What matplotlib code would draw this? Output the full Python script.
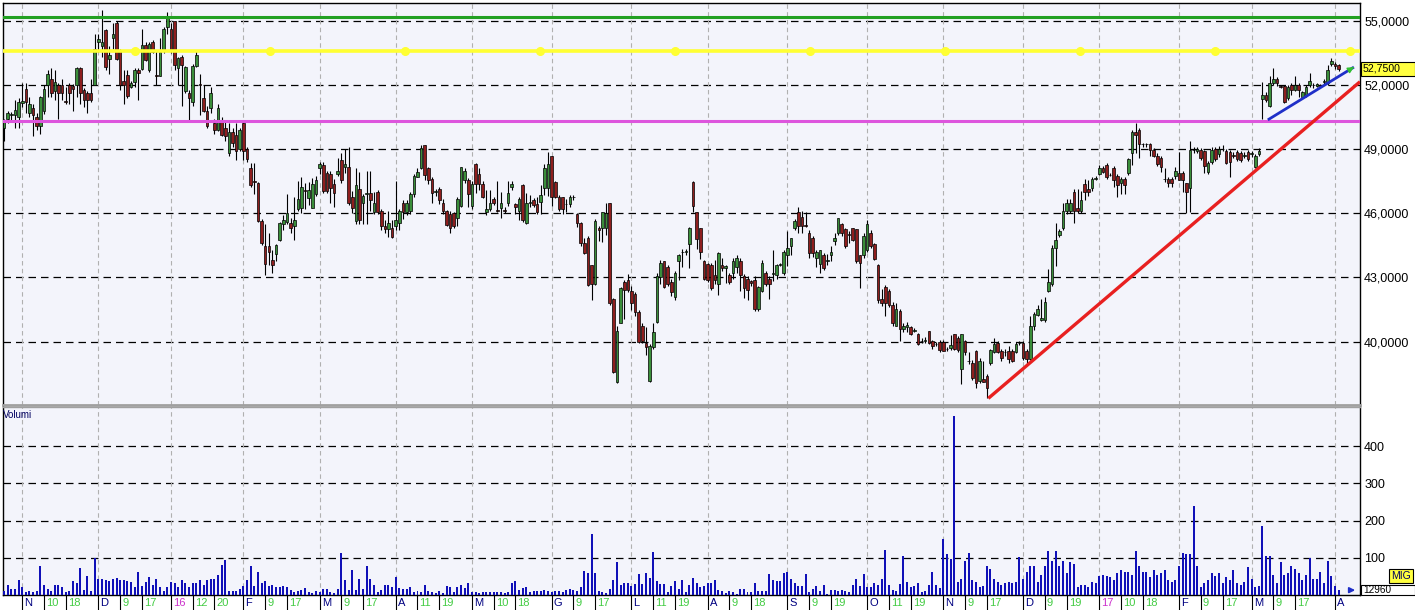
import numpy as np
import pandas as pd
import matplotlib
matplotlib.use("Agg")
import matplotlib.pyplot as plt
from matplotlib.patches import Rectangle
from matplotlib.transforms import blended_transform_factory, ScaledTranslation

plt.rcParams['font.family'] = ['Liberation Sans', 'DejaVu Sans']

# trading days (Borsa Italiana), Oct 2015 - Apr 2017
holidays = ["2015-12-24", "2015-12-25", "2015-12-31", "2016-01-01",
            "2016-03-25", "2016-03-28", "2016-08-15", "2016-12-26"]
dates = pd.bdate_range("2015-10-26", "2017-04-04")
dates = dates[~dates.isin(pd.to_datetime(holidays))]

opens = [
    50.0, 50.4, 50.6, 50.6, 50.5, 51.15, 51.8, 50.7, 50.9, 50.5,
    50.1, 50.8, 52.0, 52.3, 51.7, 52.0, 52.0, 51.25, 52.0, 51.95,
    52.0, 52.8, 51.75, 51.6, 51.6, 52.0, 54.0, 53.8, 54.55, 53.2,
    54.2, 54.9, 53.6, 52.2, 52.45, 51.9, 52.15, 52.7, 52.75, 53.85,
    52.7, 54.0, 52.45, 52.4, 53.6, 54.7, 54.6, 55.0, 52.8, 53.3,
    51.7, 51.6, 51.2, 52.9, 52.05, 51.4, 50.8, 50.9, 50.2, 49.9,
    50.3, 50.0, 48.8, 49.8, 49.65, 49.0, 50.2,
    49.0, 48.1, 47.5, 47.4, 45.65, 44.45, 44.45, 43.8, 44.1, 44.75,
    45.5, 45.6, 45.55, 45.4, 46.2, 46.25, 47.1, 46.7, 46.25, 46.9,
    48.1, 48.25, 47.9, 47.85, 47.35, 47.85, 48.5, 48.15, 48.15, 46.75,
    45.65, 47.15, 46.5, 46.9, 46.95, 46.05, 47.0, 46.1, 45.4, 45.25,
    45.3, 45.4, 45.55, 46.5, 46.05, 46.1, 46.9, 47.7, 48.1, 49.2,
    48.1, 47.6, 47.0, 47.15, 46.5, 46.1, 45.95, 46.0, 45.8, 46.35,
    47.55, 47.55, 46.35, 48.3, 47.85, 47.35, 46.05, 46.2, 46.65, 46.15,
    46.25, 46.15, 46.5, 47.25, 46.45, 46.1, 47.3, 45.55,
    46.5, 46.6, 46.45, 46.55, 47.2, 47.2, 48.7, 47.45, 46.75, 46.75,
    46.45, 46.45, 46.75, 45.95, 45.55, 44.6, 44.85, 43.6, 42.7, 45.3,
    45.3, 45.3, 46.5, 42.0, 38.1, 40.85, 42.8, 42.9, 42.35, 42.25,
    41.4, 40.75, 39.95, 38.15, 39.75, 40.9, 43.0, 43.75, 43.5, 42.8,
    42.1, 43.75, 44.2, 44.2, 44.55, 47.45, 46.05, 45.3, 43.75, 43.65,
    43.6, 43.1, 42.7, 43.6, 43.45, 43.1, 43.2, 43.5, 43.75, 43.05,
    42.95, 42.85, 42.9, 41.55, 42.35, 43.2, 42.95, 43.15, 43.1, 43.6,
    43.2, 44.05, 44.45, 45.3, 46.05, 45.85, 45.45, 45.1, 44.85, 43.9,
    43.65, 44.05, 43.75, 44.05, 44.7, 45.1, 45.5, 45.25, 45.05, 45.3,
    45.25, 44.05, 44.05, 44.3, 45.1, 44.55, 43.6, 42.0, 42.55, 42.35,
    41.7, 40.75, 41.45, 40.6, 40.7, 40.7, 40.5, 40.35, 40.05, 40.05,
    40.5, 40.05, 39.9, 40.0, 40.0, 39.65, 39.7, 40.35, 40.15, 38.7,
    40.05, 39.1, 39.0, 39.55, 38.15, 38.25, 38.4, 39.0, 39.5, 39.95,
    39.55, 39.5, 39.55, 39.55, 39.5, 39.95, 39.95, 39.55, 39.2, 40.75,
    41.25, 41.0, 41.0, 42.35, 42.7, 44.4,
    45.0, 45.3, 46.1, 46.1, 47.0, 46.25, 46.1, 47.35, 47.15, 47.2,
    47.6, 47.85, 48.1, 48.25, 47.8, 48.1, 47.75, 47.4, 47.6, 47.9,
    48.8, 49.8, 49.9, 49.25, 49.25, 49.25, 48.95, 48.7, 48.6, 47.6,
    47.6, 47.6, 47.75, 47.9, 47.9, 47.4, 47.2, 48.95, 48.9,
    48.95, 48.9, 47.95, 48.4, 49.0, 48.75, 49.0, 48.9, 48.85, 48.72,
    48.85, 48.8, 48.7, 48.85, 48.78, 48.15, 48.75,
    51.35, 51.55, 51.0, 52.1, 52.3, 51.95, 51.95, 51.4, 52.0, 51.75,
    52.0, 51.45, 51.55, 52.0, 51.98, 51.95, 52.0, 52.15, 52.1, 52.98,
    53.0, 52.95,
]
highs = [
    50.4, 50.8, 50.75, 51.3, 51.4, 52.1, 52.1, 51.45, 51.1, 50.7,
    51.5, 52.0, 52.7, 52.8, 52.7, 52.1, 52.3, 51.9, 52.1, 52.05,
    52.85, 52.85, 51.85, 51.7, 52.3, 54.4, 54.4, 55.5, 54.6, 53.8,
    54.9, 55.0, 53.7, 52.7, 52.7, 52.2, 52.8, 52.8, 54.6, 54.0,
    54.0, 54.1, 53.6, 54.2, 54.7, 55.4, 54.9, 55.0, 53.3, 53.4,
    52.9, 51.75, 53.0, 53.6, 52.5, 52.0, 51.0, 51.9, 50.4, 51.1,
    50.5, 50.3, 50.2, 50.0, 50.2, 50.0, 50.3,
    49.1, 48.35, 48.35, 47.45, 45.75, 45.5, 45.1, 44.3, 44.55, 45.6,
    45.9, 46.9, 45.8, 46.75, 47.5, 47.7, 47.4, 47.45, 47.65, 47.75,
    48.4, 48.4, 48.0, 48.0, 47.6, 48.6, 48.8, 49.0, 49.1, 47.05,
    48.1, 47.95, 46.9, 48.0, 48.0, 47.0, 47.1, 46.2, 45.7, 46.1,
    45.7, 47.5, 46.2, 46.6, 46.6, 47.0, 47.85, 48.1, 49.2, 49.2,
    48.15, 47.7, 47.15, 47.25, 46.65, 46.15, 46.1, 46.05, 46.75, 48.15,
    48.1, 47.65, 47.5, 48.35, 48.1, 47.5, 47.1, 47.1, 46.75, 47.5,
    47.0, 46.3, 47.5, 47.5, 46.5, 46.75, 47.35, 46.95,
    46.85, 46.7, 46.75, 47.3, 48.3, 48.85, 48.7, 47.5, 46.85, 46.75,
    46.65, 46.85, 46.85, 46.0, 45.6, 44.85, 44.95, 43.6, 45.75, 45.4,
    46.05, 46.5, 46.5, 42.05, 40.75, 42.55, 42.9, 43.15, 42.6, 42.3,
    41.5, 40.85, 40.7, 39.9, 40.85, 43.2, 43.8, 43.75, 43.6, 42.95,
    43.3, 44.1, 44.35, 44.35, 45.35, 47.5, 46.05, 45.3, 43.8, 43.7,
    43.7, 43.8, 44.2, 43.9, 43.6, 43.2, 43.9, 44.05, 43.9, 43.15,
    43.05, 42.9, 43.05, 42.6, 43.8, 43.3, 43.05, 44.3, 43.65, 43.7,
    44.3, 45.15, 44.85, 45.75, 46.3, 46.1, 46.05, 45.2, 44.95, 44.3,
    44.3, 44.15, 44.1, 44.45, 45.1, 45.8, 45.55, 45.3, 45.15, 45.3,
    45.25, 44.05, 45.1, 45.7, 45.2, 44.6, 43.65, 42.45, 42.65, 42.45,
    41.85, 41.8, 41.55, 40.85, 40.9, 40.75, 40.65, 40.4, 40.15, 40.2,
    40.5, 40.1, 40.0, 40.1, 40.1, 39.75, 40.3, 40.35, 40.25, 40.35,
    40.1, 39.5, 39.15, 39.6, 39.25, 39.1, 38.5, 39.65, 40.15, 40.05,
    39.65, 39.65, 39.8, 39.65, 40.0, 40.05, 40.05, 39.65, 41.2, 41.4,
    41.7, 42.0, 42.1, 43.4, 44.5, 45.55,
    45.25, 46.5, 46.65, 46.65, 47.15, 47.15, 47.05, 47.6, 47.55, 47.7,
    47.75, 48.25, 48.2, 48.35, 47.9, 48.2, 47.85, 47.7, 47.7, 48.6,
    49.9, 50.2, 50.0, 49.3, 49.3, 49.3, 49.05, 48.8, 48.7, 48.1,
    47.7, 47.7, 48.15, 48.85, 48.0, 47.4, 49.4, 49.1, 49.1,
    49.05, 48.95, 48.45, 49.1, 49.1, 49.15, 49.2, 49.0, 48.95, 48.85,
    48.95, 48.9, 48.85, 48.95, 48.9, 48.75, 49.05,
    52.15, 51.65, 52.4, 52.8, 52.35, 52.0, 52.0, 52.0, 52.1, 52.4,
    52.1, 51.7, 52.0, 52.55, 52.1, 52.1, 52.05, 52.3, 52.95, 53.25,
    53.05, 53.0,
]
lows = [
    49.4, 50.2, 50.35, 50.0, 50.0, 50.95, 50.7, 50.5, 49.6, 49.9,
    49.7, 50.65, 51.45, 51.45, 51.3, 50.4, 51.3, 51.1, 51.1, 50.8,
    51.45, 51.1, 50.95, 50.7, 51.2, 52.0, 53.55, 53.3, 52.7, 52.5,
    53.7, 53.15, 51.75, 51.1, 51.4, 51.85, 51.9, 51.3, 52.7, 53.1,
    52.6, 53.5, 52.0, 52.4, 53.5, 54.4, 53.5, 52.7, 52.0, 51.0,
    51.6, 50.35, 51.0, 52.85, 50.6, 50.75, 50.0, 50.7, 49.7, 49.85,
    49.6, 49.4, 48.7, 49.1, 48.5, 48.9, 48.5,
    48.4, 47.25, 46.9, 45.6, 44.5, 43.1, 43.6, 43.2, 43.75, 44.7,
    45.2, 45.5, 45.1, 44.75, 46.1, 46.0, 46.2, 46.4, 46.25, 46.8,
    47.85, 46.95, 46.95, 46.5, 46.3, 47.75, 47.4, 47.9, 46.4, 46.0,
    45.5, 45.5, 45.5, 45.5, 46.1, 45.95, 45.95, 45.2, 45.1, 44.9,
    44.85, 45.2, 45.2, 45.75, 45.9, 45.95, 46.75, 47.7, 48.05, 47.55,
    47.35, 46.5, 46.8, 46.45, 45.95, 45.4, 45.1, 45.3, 45.4, 46.3,
    47.4, 46.3, 46.2, 46.95, 47.1, 46.7, 45.9, 46.1, 46.4, 46.05,
    45.8, 46.0, 46.35, 47.1, 45.95, 45.7, 45.6, 45.5,
    46.3, 46.3, 45.95, 45.95, 46.85, 46.8, 46.35, 46.7, 46.1, 45.95,
    46.05, 46.3, 46.6, 45.35, 44.45, 44.1, 42.6, 41.95, 42.65, 44.7,
    44.65, 45.0, 41.7, 38.55, 38.05, 40.85, 41.05, 42.3, 41.5, 41.2,
    39.95, 39.95, 39.4, 38.1, 39.65, 40.85, 42.7, 42.5, 42.6, 42.15,
    41.95, 42.9, 43.5, 44.05, 43.45, 46.05, 44.35, 43.85, 42.9, 42.8,
    42.4, 42.7, 42.2, 43.3, 42.75, 42.7, 42.95, 43.2, 42.35, 42.05,
    41.95, 42.6, 41.45, 41.45, 42.3, 42.6, 42.0, 42.85, 42.95, 43.55,
    43.1, 43.55, 44.05, 45.2, 45.1, 45.1, 45.35, 43.9, 43.95, 43.5,
    43.2, 43.35, 43.6, 43.75, 44.5, 45.0, 44.95, 44.4, 44.6, 44.7,
    43.7, 42.5, 43.9, 44.2, 44.4, 43.8, 41.8, 41.65, 41.2, 41.6,
    40.75, 40.75, 40.05, 40.45, 40.45, 40.3, 40.45, 39.85, 39.95, 39.95,
    39.9, 39.65, 39.8, 39.5, 39.55, 39.55, 39.6, 39.6, 39.5, 38.0,
    39.4, 38.95, 38.2, 37.85, 38.05, 38.1, 37.35, 38.9, 39.45, 39.45,
    39.1, 39.35, 39.0, 39.05, 39.45, 39.85, 39.15, 38.9, 39.15, 40.55,
    41.2, 40.95, 40.9, 42.3, 42.6, 43.55,
    44.9, 45.2, 45.95, 46.0, 45.55, 46.0, 46.0, 46.6, 46.8, 47.05,
    47.55, 47.8, 47.9, 47.6, 47.75, 47.25, 46.75, 46.9, 46.9, 47.8,
    48.25, 48.8, 48.6, 49.1, 49.1, 48.7, 48.65, 48.2, 47.95, 47.45,
    47.25, 47.25, 47.6, 47.55, 47.0, 46.0, 46.05, 48.8, 48.8,
    48.5, 47.9, 47.85, 48.3, 48.45, 48.65, 48.9, 48.3, 47.7, 48.6,
    48.45, 48.4, 48.6, 48.45, 48.65, 48.1, 48.7,
    50.4, 51.2, 50.95, 52.0, 51.95, 51.85, 51.15, 51.3, 51.55, 51.7,
    51.45, 51.4, 51.45, 51.9, 51.85, 51.9, 51.9, 52.0, 52.0, 52.9,
    52.75, 52.65,
]
closes = [
    50.3, 50.7, 50.62, 50.85, 51.2, 51.25, 51.2, 51.1, 50.6, 50.1,
    51.45, 51.8, 52.5, 51.6, 52.15, 51.6, 51.6, 51.2, 51.6, 51.8,
    52.8, 51.6, 51.3, 51.3, 51.3, 53.7, 54.15, 54.0, 52.85, 53.4,
    54.4, 53.2, 52.0, 52.0, 51.5, 52.1, 52.7, 52.55, 53.85, 53.15,
    53.9, 53.55, 52.4, 53.55, 54.6, 55.2, 53.6, 52.95, 53.25, 52.95,
    52.85, 51.4, 52.9, 53.4, 52.0, 50.8, 50.1, 51.6, 49.9, 50.9,
    49.65, 49.6, 49.8, 49.3, 48.9, 49.9, 48.9,
    48.55, 47.3, 47.45, 45.65, 44.6, 43.65, 44.2, 43.6, 44.5, 45.55,
    45.7, 46.0, 45.3, 45.7, 46.65, 47.25, 47.05, 47.1, 47.35, 47.55,
    48.3, 47.05, 47.05, 47.2, 46.95, 48.0, 47.55, 48.3, 46.5, 46.25,
    47.3, 45.7, 46.8, 46.95, 46.6, 46.5, 46.05, 45.4, 45.25, 45.55,
    44.9, 45.7, 46.1, 46.05, 46.5, 46.9, 47.75, 47.95, 49.05, 47.8,
    47.55, 46.95, 47.05, 46.6, 46.1, 45.45, 45.3, 45.4, 46.65, 48.15,
    48.0, 46.9, 47.35, 47.35, 47.35, 46.75, 46.2, 46.5, 46.5, 46.1,
    46.5, 46.1, 46.95, 47.35, 46.3, 46.65, 45.7, 46.5,
    46.55, 46.4, 46.05, 46.85, 48.1, 48.3, 46.75, 46.75, 46.2, 46.2,
    46.45, 46.75, 46.75, 45.55, 44.6, 44.15, 42.65, 42.7, 45.65, 45.2,
    46.05, 46.0, 41.8, 38.6, 40.5, 42.5, 42.4, 42.4, 41.8, 41.4,
    40.0, 40.05, 39.75, 39.8, 40.45, 43.05, 43.7, 42.55, 42.7, 42.3,
    43.2, 44.05, 44.2, 44.25, 45.3, 46.35, 44.8, 44.2, 42.95, 42.9,
    42.5, 42.9, 44.15, 43.45, 43.55, 42.8, 43.75, 43.9, 43.1, 42.5,
    42.4, 42.75, 41.55, 42.55, 43.7, 42.7, 42.7, 43.2, 43.6, 43.65,
    44.2, 44.4, 44.85, 45.65, 45.4, 45.4, 45.4, 44.15, 44.15, 44.2,
    44.3, 43.45, 43.8, 44.2, 44.85, 45.8, 45.1, 44.45, 45.0, 44.75,
    43.75, 43.7, 44.95, 45.5, 44.45, 43.85, 41.95, 41.8, 41.8, 41.7,
    40.85, 41.55, 40.6, 40.75, 40.8, 40.35, 40.55, 39.9, 40.05, 40.1,
    39.95, 39.8, 39.9, 39.6, 39.55, 39.65, 39.85, 39.65, 39.6, 40.35,
    39.5, 39.1, 38.3, 38.05, 39.1, 38.1, 37.85, 39.6, 39.9, 39.5,
    39.25, 39.5, 39.2, 39.1, 39.9, 39.95, 39.25, 39.2, 40.75, 41.3,
    41.55, 41.1, 41.85, 42.8, 44.4, 44.75,
    45.15, 46.1, 46.5, 46.5, 46.1, 46.1, 46.6, 47.0, 47.0, 47.6,
    47.65, 48.1, 47.95, 47.7, 47.8, 47.55, 47.3, 47.6, 47.3, 48.55,
    49.8, 49.65, 49.25, 49.25, 49.25, 48.95, 48.7, 48.3, 48.15, 47.6,
    47.4, 47.4, 48.0, 47.55, 47.55, 47.0, 48.95, 48.95, 49.0,
    48.6, 48.2, 48.35, 48.95, 48.55, 49.0, 49.02, 48.35, 48.4, 48.7,
    48.55, 48.5, 48.72, 48.55, 48.8, 48.7, 48.9,
    51.55, 51.3, 52.1, 52.3, 52.1, 51.92, 51.2, 51.9, 51.75, 52.0,
    51.75, 51.65, 51.9, 52.2, 52.0, 52.05, 51.95, 52.17, 52.7, 53.1,
    52.9, 52.75,
]

# volumes in thousands of shares
volumes = [
    12, 26, 17, 17, 40, 21, 7, 12, 7, 12,
    77, 28, 17, 12, 26, 28, 21, 7, 12, 37,
    32, 72, 14, 51, 12, 100, 42, 42, 40, 38,
    44, 47, 40, 40, 38, 35, 21, 63, 24, 35,
    49, 26, 42, 21, 12, 21, 35, 31, 21, 40,
    32, 21, 33, 32, 40, 26, 40, 42, 42, 54,
    81, 94, 12, 12, 10, 15, 24, 40, 79, 24,
    63, 31, 37, 24, 26, 21, 21, 24, 21, 14,
    7, 10, 14, 19, 9, 5, 10, 7, 17, 17,
    7, 6, 17, 112, 40, 14, 68, 14, 42, 17,
    77, 44, 28, 7, 14, 28, 28, 21, 49, 19,
    17, 17, 21, 7, 12, 9, 26, 12, 7, 6,
    10, 6, 23, 21, 7, 21, 26, 19, 32, 7,
    7, 6,
    7, 9, 7, 9, 7, 7, 6, 7, 31, 37,
    14, 19, 21, 7, 10, 10, 10, 14, 10, 7,
    12, 10, 7, 14, 17, 14, 12, 21, 65, 60,
    165, 58, 12, 7, 6, 17, 40, 88, 28, 32,
    32, 23, 29, 56, 29, 60, 47, 116, 38, 29,
    29, 7, 23, 38, 17, 40, 7, 26, 46, 31,
    21, 23, 31, 32, 40, 14, 10, 5, 12, 7,
    3, 17, 17, 9, 7, 32, 12, 10, 12, 56,
    40, 38, 37, 58, 63, 42, 31, 23, 23, 56,
    7, 17, 23, 10, 28, 3, 14, 14, 12, 14,
    10, 7, 26, 42, 23, 56, 21, 21, 32, 26,
    42, 121, 28, 14, 12, 29, 105, 35, 21, 23,
    32, 7, 10, 26, 63, 26,
    20, 150, 110, 97, 480,
    35, 44, 91, 114, 40, 35, 21, 23, 77, 69,
    42, 35, 26, 32, 35, 31, 35, 103, 44, 63,
    77, 77, 35, 54, 77, 119, 91, 119, 77, 91,
    58, 88, 84, 21, 28, 28, 21, 35, 31, 51,
    54, 51, 49, 40, 58, 68, 63, 63, 54, 119,
    79, 63, 63, 49, 68, 54, 58, 68, 40, 35,
    40, 77, 112, 109, 109, 240, 77, 21, 31, 40,
    58, 51, 58, 31, 49, 40, 68, 31, 26, 35,
    75, 44, 21, 23, 185, 105, 105, 54, 31, 88,
    54, 58, 77, 69, 58, 40, 54, 100, 42, 44,
    63, 31, 91, 51, 23, 13,
]

# drawn levels and trend lines (bar index, price)
level_green = 55.17
level_yellow = 53.58
level_magenta = 50.31
red_trend = ([271.4, 373.9], [37.35, 52.15])
blue_trend = ([348.8, 371.9], [50.4, 52.8])

tick_dates = ["2015-11-02", "2015-11-10", "2015-11-18", "2015-12-01", "2015-12-09", "2015-12-17",
              "2016-01-04", "2016-01-12", "2016-01-20", "2016-02-01", "2016-02-09", "2016-02-17",
              "2016-03-01", "2016-03-09", "2016-03-17", "2016-04-01", "2016-04-11", "2016-04-19",
              "2016-05-02", "2016-05-10", "2016-05-18", "2016-06-01", "2016-06-09", "2016-06-17",
              "2016-07-01", "2016-07-11", "2016-07-19", "2016-08-01", "2016-08-09", "2016-08-18",
              "2016-09-01", "2016-09-09", "2016-09-19", "2016-10-03", "2016-10-11", "2016-10-19",
              "2016-11-01", "2016-11-09", "2016-11-17", "2016-12-01", "2016-12-09", "2016-12-19",
              "2017-01-02", "2017-01-10", "2017-01-18", "2017-02-01", "2017-02-09", "2017-02-17",
              "2017-03-01", "2017-03-09", "2017-03-17", "2017-04-03"]
tick_texts = ["N", "10", "18", "D", "9", "17", "16", "12", "20", "F", "9", "17",
              "M", "9", "17", "A", "11", "19", "M", "10", "18", "G", "9", "17",
              "L", "11", "19", "A", "9", "18", "S", "9", "19", "O", "11", "19",
              "N", "9", "17", "D", "9", "19", "17", "10", "18", "F", "9", "17",
              "M", "9", "17", "A"]
year_ticks = ["2016-01-04", "2017-01-02"]

W, H = 1415, 610
BG = "#F3F4FB"
UP, DOWN = "#3A8E3A", "#8E1E1E"

fig = plt.figure(figsize=(W / 100, H / 100), dpi=100)
ax = fig.add_axes([3 / W, 1 - 405 / H, 1357 / W, 402 / H])
axv = fig.add_axes([3 / W, 1 - 595 / H, 1357 / W, 188 / H], sharex=ax)

n = len(closes)
x = np.arange(n)
o = np.array(opens)
c = np.array(closes)
hi = np.array(highs)
lo = np.array(lows)
up = c >= o

for a in (ax, axv):
    a.set_facecolor(BG)
    for s in a.spines.values():
        s.set_color("black")
        s.set_linewidth(1)

# month separators
tick_pos = [int(dates.searchsorted(pd.Timestamp(d))) for d in tick_dates]
for p, t, d in zip(tick_pos, tick_texts, tick_dates):
    if t.isalpha() or d in year_ticks:
        for a in (ax, axv):
            a.axvline(p, color="#B0B0B0", lw=0.8, ls=(0, (4, 3)), zorder=1)

# candles
ax.vlines(x, lo, hi, color="black", lw=0.8, zorder=3)
ax.bar(x, np.abs(c - o), bottom=np.minimum(o, c), width=0.72,
       color=np.where(up, UP, DOWN), edgecolor="black", linewidth=0.5, zorder=3)

# levels
ax.axhline(level_green, color="#22A022", lw=2.2, zorder=4)
ax.axhline(level_yellow, color="#FFFF33", lw=2.6, zorder=4)
ax.axhline(level_magenta, color="#DD55DD", lw=2.2, zorder=4)
dots = np.arange(36.1, n + 5, 37.22)
ax.plot(dots, np.full(len(dots), level_yellow), "o", color="#FFFF33", ms=5.5, zorder=4)
ax.plot(red_trend[0], red_trend[1], color="#E82020", lw=2.4, zorder=5, solid_capstyle="butt")
ax.plot(blue_trend[0], blue_trend[1], color="#1F2FC8", lw=2.0, zorder=5)
ax.annotate("", xy=(blue_trend[0][1] + 1.0, blue_trend[1][1] + 0.1),
            xytext=(blue_trend[0][1] - 0.5, blue_trend[1][1] - 0.05),
            arrowprops=dict(arrowstyle="-|>", color="#30C030", lw=1, mutation_scale=9), zorder=6)

ax.set_xlim(-0.3, n + 4.9)
ax.set_ylim(37.04, 55.83)
ax.set_yticks([40, 43, 46, 49, 52, 55])
ax.set_yticklabels([f"{v:.4f}".replace(".", ",") for v in [40, 43, 46, 49, 52, 55]])
ax.yaxis.tick_right()
ax.tick_params(axis="y", length=0, pad=3, labelsize=9)
ax.grid(axis="y", color="black", lw=0.9, ls=(0, (6, 4)), zorder=2)
ax.set_axisbelow(True)
ax.tick_params(axis="x", bottom=False, labelbottom=False)
ax.spines["bottom"].set_color("#A0A0A0")
ax.spines["bottom"].set_linewidth(2)

# volume
axv.bar(x[:len(volumes)], volumes[:n], width=0.55, color="#1010B8", zorder=3)
axv.set_ylim(0, 505)
axv.set_yticks([100, 200, 300, 400])
axv.yaxis.tick_right()
axv.tick_params(axis="y", length=0, pad=3, labelsize=9)
axv.grid(axis="y", color="black", lw=0.9, ls=(0, (6, 4)), zorder=2)
axv.set_axisbelow(True)
axv.spines["top"].set_color("#A0A0A0")
axv.text(0.0, 0.955, "Volumi", transform=axv.transAxes, fontsize=7, color="#000060",
         ha="left", va="center")

axv.set_xticks(tick_pos)
axv.set_xticklabels(tick_texts)
axv.tick_params(axis="x", direction="out", length=11, width=0.8, pad=-8.8, labelsize=8)
shift = ScaledTranslation(1.5 / 72, 0, fig.dpi_scale_trans)
for tk, t, d in zip(axv.xaxis.get_major_ticks(), tick_texts, tick_dates):
    if d in year_ticks:
        col = "#CC33CC"
    elif t.isalpha():
        col = "#000080"
    else:
        col = "#44CC44"
    tk.tick1line.set_color(col)
    tk.label1.set_color(col)
    tk.label1.set_horizontalalignment("left")
    tk.label1.set_transform(tk.label1.get_transform() + shift)

# right side tags
tr = blended_transform_factory(fig.transFigure, ax.transData)
ax.add_patch(Rectangle((1361 / W, c[-1] - 0.32), 54 / W, 0.64, transform=tr, clip_on=False,
                       facecolor="#FFFF40", edgecolor="black", lw=0.8, zorder=6))
ax.text(1363 / W, c[-1], f"{c[-1]:.4f}".replace(".", ","), transform=tr, fontsize=7.6,
        ha="left", va="center", color="black", zorder=7)

trv = blended_transform_factory(fig.transFigure, axv.transData)
last_vol = volumes[-1]
axv.add_patch(Rectangle((1361 / W, last_vol - 12), 54 / W, 25, transform=trv, clip_on=False,
                        facecolor="white", edgecolor="black", lw=0.8, zorder=6))
axv.text(1363 / W, last_vol, f"{last_vol * 1000 - 40:d}", transform=trv, fontsize=7.2,
         ha="left", va="center", color="black", zorder=7)
axv.annotate("", xy=(1358 / W, last_vol), xytext=(1347 / W, last_vol),
             xycoords=trv, textcoords=trv,
             arrowprops=dict(arrowstyle="-|>", color="#1F2FC8", lw=1.3, mutation_scale=8))
fig.text(1401 / W, 1 - 576 / H, "MIG", fontsize=7.5, color="#000060", ha="center", va="center",
         bbox=dict(boxstyle="square,pad=0.2", facecolor="#FFFF40", edgecolor="black", lw=0.8))

fig.savefig("out.png", dpi=100)
